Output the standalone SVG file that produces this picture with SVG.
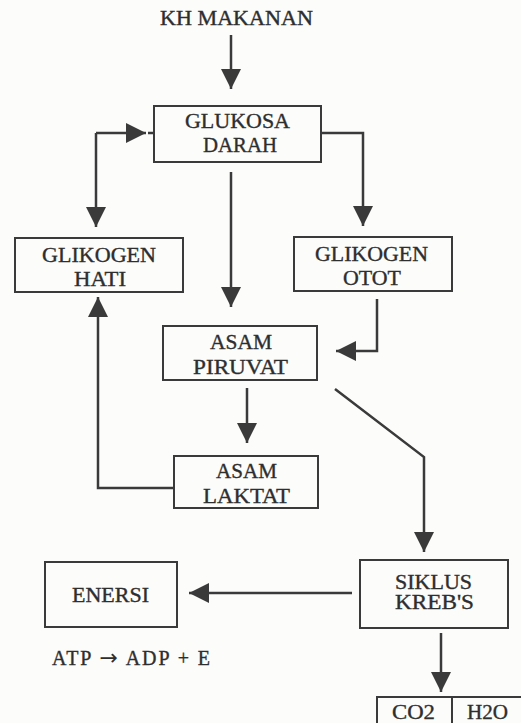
<svg xmlns="http://www.w3.org/2000/svg" width="521" height="723" viewBox="0 0 521 723">
<style>
.bg{fill:#fcfcfb}
.box{fill:none;stroke:#3a3a3a;stroke-width:2}
.ln{fill:none;stroke:#3a3a3a;stroke-width:2.5}
.arr{marker-end:url(#ah)}
text{font-family:"Liberation Serif","Times New Roman",serif;fill:#2e2e2e;stroke:#2e2e2e;stroke-width:0.35;text-anchor:middle}
.t{font-size:21px}
.s{font-size:20px}
</style>
<defs>
<marker id="ah" markerUnits="userSpaceOnUse" markerWidth="20" markerHeight="20" viewBox="0 0 20 20" refX="20" refY="10" orient="auto">
<path d="M0,0 L20,10 L0,20 Z" fill="#3a3a3a"/>
</marker>
</defs>
<rect class="bg" x="0" y="0" width="521" height="723"/>
<g id="connectors">
<path class="ln arr" d="M231,35 L231,89"/>
<path class="ln arr" d="M96,133 L146,133"/>
<path class="ln" d="M148,133 L154,133"/>
<path class="ln arr" d="M96,133 L96,227"/>
<path class="ln arr" d="M321,133 L363,133 L363,226"/>
<path class="ln arr" d="M231,172 L231,307"/>
<path class="ln arr" d="M377,299 L377,351 L336,351"/>
<path class="ln arr" d="M174,488 L98,488 L98,297"/>
<path class="ln arr" d="M247,388 L247,443"/>
<path class="ln arr" d="M335,389 L424,457 L424,552"/>
<path class="ln arr" d="M352,593 L189,593"/>
<path class="ln arr" d="M441,633 L441,692"/>
</g>
<g id="kh-makanan">
<text class="s" x="236.5" y="25" textLength="153" lengthAdjust="spacingAndGlyphs">KH MAKANAN</text>
</g>
<g id="glukosa-darah">
<rect class="box" x="154" y="106" width="167" height="56"/>
<text class="t" x="237.5" y="128" textLength="105" lengthAdjust="spacingAndGlyphs">GLUKOSA</text>
<text class="t" x="240" y="152" textLength="74" lengthAdjust="spacingAndGlyphs">DARAH</text>
</g>
<g id="glikogen-hati">
<rect class="box" x="15" y="238" width="168" height="54"/>
<text class="t" x="99" y="262" textLength="114" lengthAdjust="spacingAndGlyphs">GLIKOGEN</text>
<text class="t" x="100" y="286" textLength="52" lengthAdjust="spacingAndGlyphs">HATI</text>
</g>
<g id="glikogen-otot">
<rect class="box" x="294" y="237" width="158" height="54"/>
<text class="t" x="371.5" y="261" textLength="113" lengthAdjust="spacingAndGlyphs">GLIKOGEN</text>
<text class="t" x="372" y="285" textLength="58" lengthAdjust="spacingAndGlyphs">OTOT</text>
</g>
<g id="asam-piruvat">
<rect class="box" x="163" y="326" width="154" height="54"/>
<text class="t" x="241" y="349" textLength="62" lengthAdjust="spacingAndGlyphs">ASAM</text>
<text class="t" x="240.5" y="374" textLength="95" lengthAdjust="spacingAndGlyphs">PIRUVAT</text>
</g>
<g id="asam-laktat">
<rect class="box" x="174" y="456" width="144" height="52"/>
<text class="t" x="246.5" y="478" textLength="61" lengthAdjust="spacingAndGlyphs">ASAM</text>
<text class="t" x="246.5" y="503" textLength="87" lengthAdjust="spacingAndGlyphs">LAKTAT</text>
</g>
<g id="enersi">
<rect class="box" x="45" y="562" width="132" height="65"/>
<text class="s" x="110.5" y="602" textLength="77" lengthAdjust="spacingAndGlyphs">ENERSI</text>
</g>
<g id="siklus-krebs">
<rect class="box" x="360" y="560" width="148" height="68"/>
<text class="s" x="433.5" y="589" textLength="77" lengthAdjust="spacingAndGlyphs">SIKLUS</text>
<text class="s" x="434.5" y="609" textLength="79" lengthAdjust="spacingAndGlyphs">KREB'S</text>
</g>
<g id="atp">
<text class="s" x="52" y="665" style="text-anchor:start" textLength="158" lengthAdjust="spacing">ATP <tspan style="font-family:'DejaVu Sans',sans-serif;font-size:22px;stroke-width:0">→</tspan> ADP + E</text>
</g>
<g id="co2-h2o">
<rect class="box" x="377" y="697" width="160" height="40"/>
<line class="box" x1="452" y1="697" x2="452" y2="723"/>
<text class="s" x="413.5" y="719" textLength="43" lengthAdjust="spacingAndGlyphs">CO2</text>
<text class="s" x="487.5" y="719" textLength="41" lengthAdjust="spacingAndGlyphs">H2O</text>
</g>
</svg>
